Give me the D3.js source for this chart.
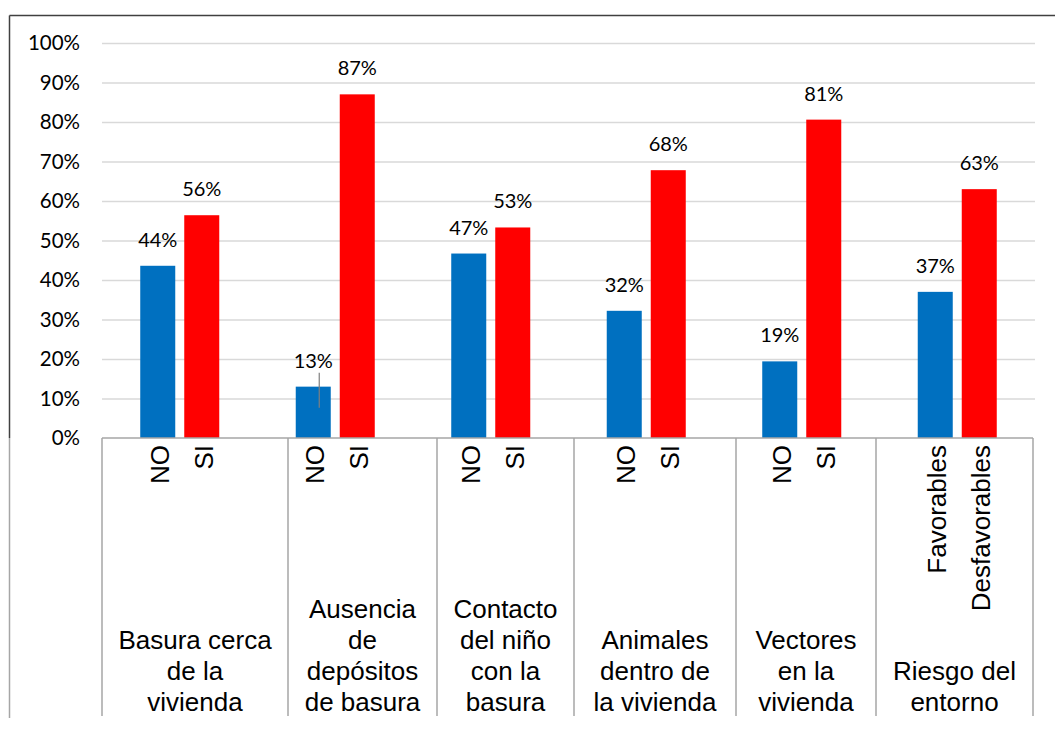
<!DOCTYPE html>
<html>
<head>
<meta charset="utf-8">
<script src="https://cdn.jsdelivr.net/npm/d3@7"></script>
<style>
  body { margin: 0; background: #fff; }
  svg { display: block; }
</style>
</head>
<body>
<div id="chart"></div>
<script>
// categories (multi-line labels) and the two sub-bars of each group
const categories = [
  ["Basura cerca", "de la", "vivienda"],
  ["Ausencia", "de", "depósitos", "de basura"],
  ["Contacto", "del niño", "con la", "basura"],
  ["Animales", "dentro de", "la vivienda"],
  ["Vectores", "en la", "vivienda"],
  ["Riesgo del", "entorno"]
];
const subLabels = [
  ["NO", "SI"], ["NO", "SI"], ["NO", "SI"], ["NO", "SI"], ["NO", "SI"],
  ["Favorables", "Desfavorables"]
];
const firstValues  = [0.436, 0.13, 0.467, 0.322, 0.194, 0.37];
const secondValues = [0.564, 0.87, 0.533, 0.678, 0.806, 0.63];
const yTicks = [0, 0.1, 0.2, 0.3, 0.4, 0.5, 0.6, 0.7, 0.8, 0.9, 1];
// Excel drew a leader line for this label only (group index, series index)
const leaders = [[1, 0]];

const W = 1055, H = 740;
const plot = {left: 102, right: 1035, top: 43, bottom: 438};
const boxBottom = 716;
// where Excel put the category box dividers (they are not evenly spaced)
const boxEdges = [102, 288, 437, 574, 736, 876, 1033];
const colors = ["#0070C0", "#FF0000"];

const svg = d3.select("#chart").append("svg")
  .attr("width", W)
  .attr("height", H);

const keys = categories.map((c, i) => "c" + i);
const x = d3.scaleBand().domain(keys).range([plot.left, plot.right]);
const xSub = d3.scaleBand().domain([0, 1])
  .range([0, x.bandwidth()])
  .paddingInner(9 / 44)
  .paddingOuter(0.869);
const y = d3.scaleLinear().domain([0, 1]).range([plot.bottom, plot.top]);

// outer frame (cropped on the right and bottom)
svg.append("line")
  .attr("x1", 9.5).attr("x2", W).attr("y1", 15.5).attr("y2", 15.5)
  .attr("stroke", "#404040").attr("stroke-width", 1.5);
svg.append("line")
  .attr("x1", 9.5).attr("x2", 9.5).attr("y1", 15.5).attr("y2", plot.bottom)
  .attr("stroke", "#404040").attr("stroke-width", 1.5);
svg.append("line")
  .attr("x1", 9.5).attr("x2", 9.5).attr("y1", plot.bottom).attr("y2", boxBottom + 2)
  .attr("stroke", "#a6a6a6").attr("stroke-width", 1.5);

// gridlines
svg.append("g")
  .attr("transform", "translate(" + plot.left + ",0)")
  .call(d3.axisLeft(y).tickValues(yTicks.slice(1)).tickSize(-(plot.right - plot.left)).tickFormat(""))
  .call(g => g.select(".domain").remove())
  .call(g => g.selectAll("line").attr("stroke", "#d9d9d9").attr("stroke-width", 1.5));

// y tick labels
svg.append("g")
  .selectAll("text")
  .data(yTicks)
  .join("text")
  .attr("x", 80)
  .attr("y", d => y(d))
  .attr("dy", "0.36em")
  .attr("text-anchor", "end")
  .style("font-family", "Lato, 'Open Sans', sans-serif")
  .style("font-size", "20.5px")
  .attr("fill", "#000")
  .text(d => d3.format(".0%")(d));

// bars
const rows = categories.map((c, i) => ({
  key: keys[i],
  vals: [firstValues[i], secondValues[i]],
  subs: subLabels[i]
}));

const groups = svg.append("g")
  .selectAll("g")
  .data(rows)
  .join("g")
  .attr("transform", d => "translate(" + x(d.key) + ",0)");

groups.selectAll("rect")
  .data(d => d.vals.map((v, j) => ({v: v, j: j})))
  .join("rect")
  .attr("x", d => xSub(d.j))
  .attr("width", xSub.bandwidth())
  .attr("y", d => y(d.v))
  .attr("height", d => y(0) - y(d.v))
  .attr("fill", d => colors[d.j]);

// data labels
groups.selectAll("text.val")
  .data(d => d.vals.map((v, j) => ({v: v, j: j})))
  .join("text")
  .attr("class", "val")
  .attr("x", d => xSub(d.j) + xSub.bandwidth() / 2)
  .attr("y", d => y(d.v) - 19)
  .attr("text-anchor", "middle")
  .style("font-family", "Lato, 'Open Sans', sans-serif")
  .style("font-size", "20px")
  .attr("fill", "#000")
  .text(d => Math.round(d.v * 100) + "%");

// leader line
leaders.forEach(([i, j]) => {
  const cx = x(keys[i]) + xSub(j) + xSub.bandwidth() / 2 + 6;
  const v = j === 0 ? firstValues[i] : secondValues[i];
  svg.append("line")
    .attr("x1", cx).attr("x2", cx)
    .attr("y1", y(v) - 14).attr("y2", y(v) + 21)
    .attr("stroke", "#7f7f7f").attr("stroke-width", 1.2);
});

// category axis: baseline and boxes
svg.append("line")
  .attr("x1", plot.left).attr("x2", boxEdges[boxEdges.length - 1])
  .attr("y1", plot.bottom).attr("y2", plot.bottom)
  .attr("stroke", "#a6a6a6").attr("stroke-width", 1.5);

svg.append("g")
  .selectAll("line")
  .data(boxEdges)
  .join("line")
  .attr("x1", d => d).attr("x2", d => d)
  .attr("y1", plot.bottom).attr("y2", boxBottom)
  .attr("stroke", "#a6a6a6").attr("stroke-width", 1.5);

// rotated sub labels
groups.selectAll("text.sub")
  .data(d => d.subs.map((s, j) => ({s: s, j: j})))
  .join("text")
  .attr("class", "sub")
  .attr("transform", d => "translate(" + (xSub(d.j) + xSub.bandwidth() / 2 + 2) + "," + (plot.bottom + 7) + ") rotate(-90)")
  .attr("dy", "0.35em")
  .attr("text-anchor", "end")
  .style("font-family", "'Liberation Sans', Arial, sans-serif")
  .style("font-size", "26px")
  .attr("fill", "#000")
  .text(d => d.s);

// category labels, bottom-aligned in each box
const lineH = 31;
svg.append("g")
  .selectAll("text")
  .data(categories)
  .join("text")
  .attr("x", (d, i) => (boxEdges[i] + boxEdges[i + 1]) / 2)
  .attr("y", 711)
  .attr("text-anchor", "middle")
  .style("font-family", "'Liberation Sans', Arial, sans-serif")
  .style("font-size", "26px")
  .attr("fill", "#000")
  .each(function (d) {
    const t = d3.select(this);
    d.forEach((line, k) => {
      t.append("tspan")
        .attr("x", t.attr("x"))
        .attr("y", 711 - (d.length - 1 - k) * lineH)
        .text(line);
    });
  });
</script>
</body>
</html>
